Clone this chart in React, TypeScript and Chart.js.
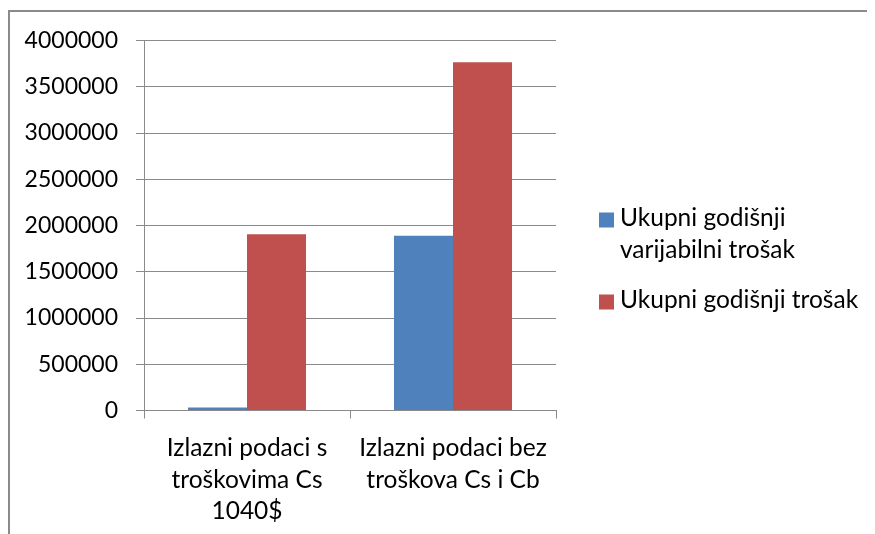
import React, { useEffect, useRef } from "react";
import { Chart, registerables } from "chart.js";

Chart.register(...registerables);

const categories: string[][] = [
  ["Izlazni podaci s", "troškovima Cs", "1040$"],
  ["Izlazni podaci bez", "troškova Cs i Cb"],
];
const seriesLabels: string[] = ["Ukupni godišnji varijabilni trošak", "Ukupni godišnji trošak"];
const legendLines: string[][] = [["Ukupni godišnji", "varijabilni trošak"], ["Ukupni godišnji trošak"]];
const varijabilniTrosak: number[] = [32000, 1890000];
const ukupniTrosak: number[] = [1905000, 3764000];
const yTicks: number[] = [0, 500000, 1000000, 1500000, 2000000, 2500000, 3000000, 3500000, 4000000];

const BLUE = "#4F81BD";
const RED = "#C0504D";
const GRID = "#8a8a8a";
const FONT = "Lato, Calibri, 'Open Sans', sans-serif";

const legendPlugin = {
  id: "customLegend",
  afterDraw(chart: any) {
    const ctx = chart.ctx;
    const { right, top } = chart.chartArea;
    const colors = [BLUE, RED];
    const itemY = [top + 178, top + 260];
    ctx.save();
    ctx.font = `24.5px ${FONT}`;
    ctx.textBaseline = "middle";
    ctx.textAlign = "left";
    legendLines.forEach((lines, i) => {
      ctx.fillStyle = colors[i];
      ctx.fillRect(right + 43, itemY[i] - 6, 15, 15);
      ctx.fillStyle = "#000";
      lines.forEach((ln, j) => {
        ctx.fillText(ln, right + 64, itemY[i] + j * 32);
      });
    });
    ctx.restore();
  },
};

export default function App() {
  const ref = useRef<HTMLCanvasElement>(null);
  useEffect(() => {
    document.body.style.overflow = "hidden";
    document.documentElement.style.overflow = "hidden";
    const chart = new Chart(ref.current!, {
      type: "bar",
      data: {
        labels: categories as any,
        datasets: [
          {
            label: seriesLabels[0],
            data: varijabilniTrosak,
            backgroundColor: BLUE,
            categoryPercentage: 0.573,
            barPercentage: 1,
          },
          {
            label: seriesLabels[1],
            data: ukupniTrosak,
            backgroundColor: RED,
            categoryPercentage: 0.573,
            barPercentage: 1,
          },
        ],
      },
      options: {
        responsive: false,
        animation: false,
        layout: { padding: { left: 0, top: 28.5, right: 319, bottom: 0 } },
        plugins: { legend: { display: false }, tooltip: { enabled: false } },
        scales: {
          x: {
            grid: {
              drawOnChartArea: false,
              drawTicks: true,
              tickLength: 8,
              color: GRID,
              offset: true,
            },
            border: { color: GRID, width: 1 },
            ticks: {
              color: "#000",
              font: { family: FONT, size: 24.5, lineHeight: 1.29 },
              maxRotation: 0,
              autoSkip: false,
              padding: 14,
            },
            afterFit(scale: any) {
              scale.height = 123.5;
            },
          },
          y: {
            min: 0,
            max: 4000000,
            afterBuildTicks(scale: any) {
              scale.ticks = yTicks.map((v) => ({ value: v }));
            },
            grid: { color: GRID, tickLength: 8, drawTicks: true },
            border: { color: GRID, width: 1 },
            ticks: {
              color: "#000",
              font: { family: FONT, size: 23 },
              padding: 18,
              callback: (v: any) => String(v),
            },
            afterFit(scale: any) {
              scale.width = 134;
              scale.paddingTop = 0;
              scale.paddingBottom = 0;
            },
          },
        },
      },
      plugins: [legendPlugin],
    });
    return () => chart.destroy();
  }, []);
  return (
    <div style={{ paddingTop: 2, width: 867, overflow: "hidden" }}>
      <div style={{ borderLeft: `2px solid ${GRID}`, borderTop: `2px solid ${GRID}`, width: 900 }}>
        <canvas ref={ref} width={865} height={522} style={{ display: "block" }} />
      </div>
    </div>
  );
}
